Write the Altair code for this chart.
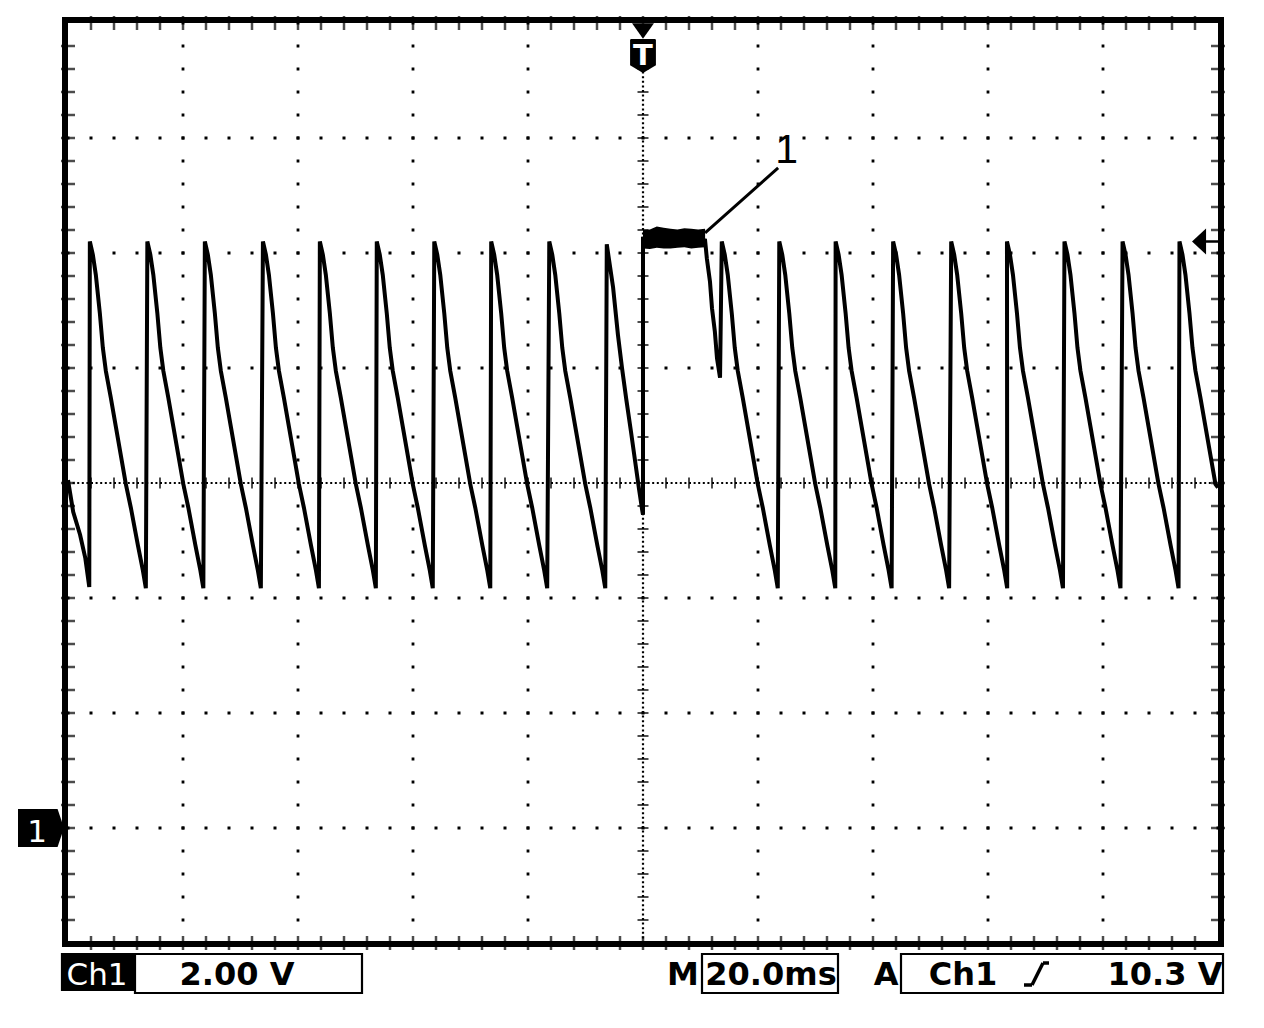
import altair as alt
import pandas as pd

# ---- values ----
# time in ms (20 ms/div, trigger at 0), voltage in V (2.00 V/div, ground marker at 0 V)
X_DOMAIN = [-100, 100]
Y_DOMAIN = [-2, 14]

lead_t = [-100.0, -99.1, -97.9, -97.0, -96.3]
lead_v = [6.05, 5.5, 5.1, 4.7, 4.19]

pre_starts = [-96.2, -86.2, -76.2, -66.1, -56.2, -46.3, -36.3, -26.4, -16.3]
post_starts = [13.7, 23.7, 33.5, 43.5, 53.6, 63.3, 73.3, 83.4]
last_start = 93.3
end_t, end_v = 100.0, 5.92

# one sawtooth cycle (offset ms, volts)
cycle_dt = [0.0, 0.52, 1.04, 1.74, 2.26, 2.78, 3.65, 4.52, 5.39, 6.26, 7.13, 8.35, 9.22, 9.74]
cycle_v = [10.2, 9.97, 9.62, 8.95, 8.35, 7.95, 7.48, 6.98, 6.48, 5.98, 5.57, 4.92, 4.48, 4.17]

# cycle just before the trigger
pretrig_t = [-6.3, -5.2, -4.35, -3.65, -2.9, -2.1, -1.4, -0.7, -0.1, 0.0]
pretrig_v = [10.15, 9.4, 8.57, 8.0, 7.45, 6.9, 6.4, 5.9, 5.5, 5.45]

# held level after the trigger (marker 1)
plateau_t = [0.0, 1.5, 3.0, 4.5, 6.0, 7.5, 9.0, 10.8]
plateau_v = [10.25, 10.27, 10.28, 10.26, 10.27, 10.26, 10.25, 10.22]
band_t = [0.0, 1.2, 2.4, 3.6, 4.8, 6.0, 7.2, 8.4, 9.6, 10.8]
band_top = [10.4, 10.41, 10.46, 10.44, 10.42, 10.41, 10.43, 10.42, 10.41, 10.42]
band_bot = [10.08, 10.07, 10.09, 10.08, 10.08, 10.09, 10.1, 10.08, 10.09, 10.1]

# fall after the held level
fall_t = [11.1, 11.65, 12.0, 12.5, 12.87, 13.4]
fall_v = [9.91, 9.5, 9.04, 8.63, 8.17, 7.83]

trigger_level = 10.2
callout_t = [10.8, 23.5]
callout_v = [10.35, 11.48]
callout_label = "1"
callout_label_t, callout_label_v = 25.0, 11.57

major_x = [-80, -60, -40, -20, 20, 40, 60, 80]
major_y = [0, 2, 4, 8, 10, 12]
minor_x = [-100 + 4 * k for k in range(1, 50)]
minor_y = [round(-2 + 0.4 * k, 2) for k in range(1, 40)]

# ---- build the trace table ----
ts, vs = [], []
ts += lead_t
vs += lead_v
for s in pre_starts:
    for d, v in zip(cycle_dt, cycle_v):
        ts.append(round(s + d, 3))
        vs.append(v)
ts += pretrig_t
vs += pretrig_v
ts += plateau_t
vs += plateau_v
ts += fall_t
vs += fall_v
for s in post_starts:
    for d, v in zip(cycle_dt, cycle_v):
        ts.append(round(s + d, 3))
        vs.append(v)
for d, v in zip(cycle_dt, cycle_v):
    if last_start + d < end_t:
        ts.append(round(last_start + d, 3))
        vs.append(v)
ts.append(end_t)
vs.append(end_v)
trace = pd.DataFrame({"t": ts, "v": vs, "i": list(range(len(ts)))})

xs = alt.Scale(domain=X_DOMAIN, nice=False, zero=False)
ys = alt.Scale(domain=Y_DOMAIN, nice=False, zero=False)
one = pd.DataFrame({"k": [0]})

W, H = 1150, 920
BLACK = "#000000"


def X(f):
    return alt.X(f, type="quantitative", scale=xs, axis=None)


def Y(f):
    return alt.Y(f, type="quantitative", scale=ys, axis=None)


layers = []

# dotted major grid
layers.append(
    alt.Chart(pd.DataFrame({"t": major_x, "y0": [-2] * len(major_x), "y1": [14] * len(major_x)}))
    .mark_rule(color=BLACK, strokeWidth=2.8, strokeDash=[3, 20], strokeDashOffset=1.5)
    .encode(x=X("t"), y=Y("y0"), y2="y1")
)
layers.append(
    alt.Chart(pd.DataFrame({"v": major_y, "x0": [-100] * len(major_y), "x1": [100] * len(major_y)}))
    .mark_rule(color=BLACK, strokeWidth=2.8, strokeDash=[3, 20], strokeDashOffset=1.5)
    .encode(y=Y("v"), x=X("x0"), x2="x1")
)
# centre crosshair (dense dots)
layers.append(
    alt.Chart(pd.DataFrame({"t": [0], "y0": [-2], "y1": [14]}))
    .mark_rule(color=BLACK, strokeWidth=2.2, strokeDash=[2, 2.6])
    .encode(x=X("t"), y=Y("y0"), y2="y1")
)
layers.append(
    alt.Chart(pd.DataFrame({"v": [6], "x0": [-100], "x1": [100]}))
    .mark_rule(color=BLACK, strokeWidth=2.2, strokeDash=[2, 2.6])
    .encode(y=Y("v"), x=X("x0"), x2="x1")
)
# crosshair minor ticks
layers.append(
    alt.Chart(pd.DataFrame({"t": minor_x, "v": [6] * len(minor_x)}))
    .mark_tick(color=BLACK, orient="vertical", size=11, thickness=2)
    .encode(x=X("t"), y=Y("v"))
)
layers.append(
    alt.Chart(pd.DataFrame({"v": minor_y, "t": [0] * len(minor_y)}))
    .mark_tick(color=BLACK, orient="horizontal", size=11, thickness=2)
    .encode(y=Y("v"), x=X("t"))
)
# border minor ticks
for yd in (14, -2):
    layers.append(
        alt.Chart(pd.DataFrame({"t": minor_x, "v": [yd] * len(minor_x)}))
        .mark_tick(color=BLACK, orient="vertical", size=14, thickness=2.5)
        .encode(x=X("t"), y=Y("v"))
    )
for xd in (-100, 100):
    layers.append(
        alt.Chart(pd.DataFrame({"v": minor_y, "t": [xd] * len(minor_y)}))
        .mark_tick(color=BLACK, orient="horizontal", size=14, thickness=2.5)
        .encode(y=Y("v"), x=X("t"))
    )

# held-level band
layers.append(
    alt.Chart(pd.DataFrame({"t": band_t, "top": band_top, "bot": band_bot}))
    .mark_area(color=BLACK, opacity=1)
    .encode(x=X("t"), y=Y("top"), y2="bot")
)
# waveform
layers.append(
    alt.Chart(trace)
    .mark_line(color=BLACK, strokeWidth=4, strokeJoin="miter", strokeMiterLimit=2)
    .encode(x=X("t"), y=Y("v"), order="i:Q")
)
# callout line and label
layers.append(
    alt.Chart(pd.DataFrame({"t0": [callout_t[0]], "t1": [callout_t[1]],
                            "v0": [callout_v[0]], "v1": [callout_v[1]]}))
    .mark_rule(color=BLACK, strokeWidth=3)
    .encode(x=X("t0"), x2="t1", y=Y("v0"), y2="v1")
)
layers.append(
    alt.Chart(pd.DataFrame({"t": [callout_label_t], "v": [callout_label_v], "s": [callout_label]}))
    .mark_text(font="Liberation Sans", fontSize=41, color=BLACK, align="center", baseline="alphabetic")
    .encode(x=X("t"), y=Y("v"), text="s:N")
)

# trigger position marker (T)
tpos = pd.DataFrame({"t": [0]})
layers.append(
    alt.Chart(tpos)
    .mark_point(shape="M-1,-0.7 L1,-0.7 L0,0.7 Z", filled=True, color=BLACK, size=480, opacity=1)
    .encode(x=X("t"), y=alt.value(8))
)
layers.append(
    alt.Chart(tpos)
    .mark_point(shape="M-0.72,-1 L0.72,-1 L0.76,-0.94 L0.76,0.55 L0,1 L-0.76,0.55 L-0.76,-0.94 Z",
                filled=True, color=BLACK, size=1156, opacity=1)
    .encode(x=X("t"), y=alt.value(33))
)
layers.append(
    alt.Chart(tpos)
    .mark_text(text="T", font="DejaVu Sans", fontWeight="bold", fontSize=29, color="white",
               align="center", baseline="alphabetic")
    .encode(x=X("t"), y=alt.value(42))
)

# trigger level arrow (right)
layers.append(
    alt.Chart(pd.DataFrame({"t": [96.7], "v": [trigger_level]}))
    .mark_point(shape="M-0.54,0 L0.54,-1 L0.54,1 Z", filled=True, color=BLACK, size=676, opacity=1)
    .encode(x=X("t"), y=Y("v"))
)
layers.append(
    alt.Chart(pd.DataFrame({"t0": [97.5], "t1": [100], "v": [trigger_level]}))
    .mark_rule(color=BLACK, strokeWidth=2.5)
    .encode(x=X("t0"), x2="t1", y=Y("v"))
)

# channel 1 ground marker (left)
gnd = pd.DataFrame({"v": [0.0]})
layers.append(
    alt.Chart(gnd)
    .mark_point(shape="M-1,-0.83 L0.72,-0.83 L1,0 L0.72,0.83 L-1,0.83 Z",
                filled=True, color=BLACK, size=2116, opacity=1)
    .encode(x=alt.value(-27), y=Y("v"))
)
layers.append(
    alt.Chart(one)
    .mark_text(text="1", font="DejaVu Sans", fontSize=31, color="white",
               align="center", baseline="alphabetic")
    .encode(x=alt.value(-31), y=alt.value(819))
)

# frame
layers.append(
    alt.Chart(one)
    .mark_rect(fillOpacity=0, stroke=BLACK, strokeWidth=6)
    .encode(x=alt.value(-3), x2=alt.value(W + 3), y=alt.value(-3), y2=alt.value(H + 1))
)


# ---- bottom status bar ----
def box(x1, x2, y1, y2, fill=False):
    m = alt.Chart(one).mark_rect(
        fill=BLACK if fill else "white", fillOpacity=1, stroke=BLACK, strokeWidth=2.2
    )
    return m.encode(x=alt.value(x1), x2=alt.value(x2), y=alt.value(y1), y2=alt.value(y2))


def label(txt, xc, color=BLACK, weight="bold", size=32):
    return (
        alt.Chart(one)
        .mark_text(text=txt, font="DejaVu Sans", fontWeight=weight, fontSize=size, color=color,
                   align="center", baseline="alphabetic")
        .encode(x=alt.value(xc), y=alt.value(962))
    )


layers.append(box(-6, 65, 931, 967, fill=True))
layers.append(label("Ch1", 29, color="white", weight="normal", size=31))
layers.append(box(67, 294, 931, 970))
layers.append(label("2.00 V", 169))
layers.append(label("M", 615))
layers.append(box(634, 770, 931, 970))
layers.append(label("20.0ms", 703))
layers.append(label("A", 818))
layers.append(box(833, 1155, 931, 970))
layers.append(label("Ch1", 895))
# rising-edge symbol
for (a, b, c, d) in [(956, 964, 962, 962), (964, 975, 962, 940), (975, 981, 940, 940)]:
    layers.append(
        alt.Chart(one)
        .mark_rule(color=BLACK, strokeWidth=3.5)
        .encode(x=alt.value(a), x2=alt.value(b), y=alt.value(c), y2=alt.value(d))
    )
layers.append(label("10.3 V", 1097))

chart = (
    alt.layer(*layers)
    .properties(
        width=W,
        height=H,
        autosize=alt.AutoSizeParams(type="none"),
        padding={"left": 60, "top": 15, "right": 30, "bottom": 70},
        background="white",
    )
    .configure_view(stroke=None)
)

chart.save("out.html", embed_options={"renderer": "svg", "actions": False})
